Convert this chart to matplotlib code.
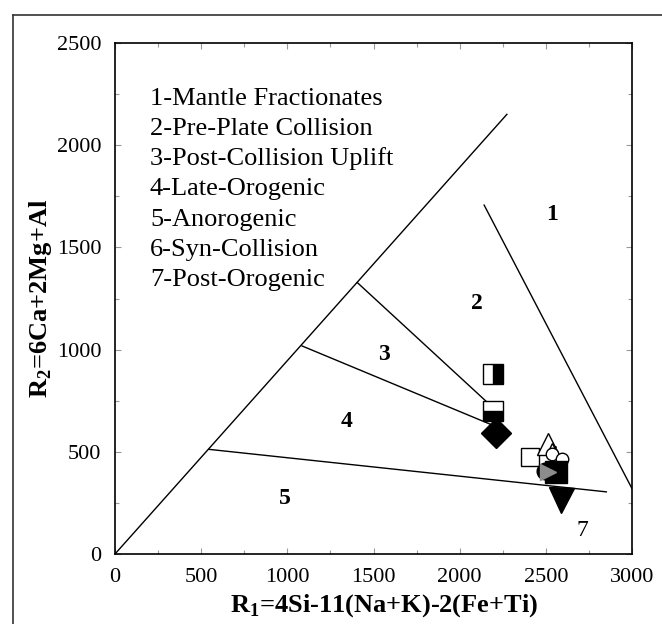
import matplotlib
matplotlib.use('Agg')
import matplotlib.pyplot as plt
from matplotlib.lines import Line2D
from matplotlib.ticker import MultipleLocator

plt.rcParams['font.family'] = ['Liberation Serif', 'DejaVu Serif']
plt.rcParams['mathtext.fontset'] = 'custom'
plt.rcParams['mathtext.rm'] = 'Liberation Serif'
plt.rcParams['mathtext.bf'] = 'Liberation Serif:bold'

# field boundaries (R1, R2)
diag_x = [0, 2274]
diag_y = [0, 2151]
line1_x = [2142, 3000]
line1_y = [1707, 320]
line3_x = [1406, 2200]
line3_y = [1328, 711]
line4_x = [1085, 2200]
line4_y = [1018, 627]
line5_x = [545, 2851]
line5_y = [512, 304]

# field numbers
field_labels = ['1', '2', '3', '4', '5', '7']
field_x = [2535, 2100, 1558, 1341, 987, 2711]
field_y = [1663, 1226, 974, 647, 272, 117]

legend_lines = ['1-Mantle Fractionates', '2-Pre-Plate Collision',
                '3-Post-Collision Uplift', '4-Late-Orogenic', '5-Anorogenic',
                '6-Syn-Collision', '7-Post-Orogenic']

# samples
half_r_x, half_r_y = [2193], [880]
half_b_x, half_b_y = [2193], [702]
diamond_x, diamond_y = [2210], [592]
open_sq_x, open_sq_y = [2410], [475]
open_tri_x, open_tri_y = [2510], [537]
small_tri_x, small_tri_y = [2535], [512]
open_circ_x, open_circ_y = [2535, 2592], [488, 463]
blk_circ_x, blk_circ_y = [2497], [408]
blk_sq_x, blk_sq_y = [2560], [400]
grey_tri_x, grey_tri_y = [2514], [402]
inv_tri_x, inv_tri_y = [2588], [262]

fig = plt.figure(figsize=(6.62, 6.24), dpi=100)
ax = fig.add_axes([115/662, 1 - 554/624, 517/662, 511/624])

# outer frame (left and top only)
fig.add_artist(Line2D([13/662, 13/662], [0, 1 - 15/624], color='#333333', lw=1.2))
fig.add_artist(Line2D([13/662, 1], [1 - 15/624, 1 - 15/624], color='#333333', lw=1.2))

lw = 1.0
for xs, ys in [(diag_x, diag_y), (line1_x, line1_y), (line3_x, line3_y),
               (line4_x, line4_y), (line5_x, line5_y)]:
    ax.plot(xs, ys, color='black', lw=lw, zorder=2)

for lab, x, y in zip(field_labels, field_x, field_y):
    ax.text(x, y, lab, fontsize=17, ha='center', va='center',
            fontweight='normal' if lab == '7' else 'bold', zorder=3)
ax.text(2540, 485, '6', fontsize=13, ha='center', va='center', zorder=3)

for i, s in enumerate(legend_lines):
    ax.text(203, 2197 - i * 147.6, s, fontsize=19, va='baseline', ha='left')

# markers
ax.plot(half_r_x, half_r_y, 's', ms=15, fillstyle='right', mfc='black',
        mfcalt='white', mec='black', mew=1.0, zorder=5)
ax.plot(half_b_x, half_b_y, 's', ms=15, fillstyle='bottom', mfc='black',
        mfcalt='white', mec='black', mew=1.0, zorder=5)
ax.plot(diamond_x, diamond_y, 'D', ms=15, color='black', zorder=6)
ax.plot(open_sq_x, open_sq_y, 's', ms=13, mfc='white', mec='black', mew=1.0, zorder=5)
ax.plot(open_tri_x, open_tri_y, '^', ms=16, mfc='white', mec='black', mew=1.0, zorder=6)
ax.plot(small_tri_x, small_tri_y, '^', ms=9, mfc='none', mec='black', mew=1.0, zorder=6)
ax.plot(open_circ_x, open_circ_y, 'o', ms=9, mfc='white', mec='black', mew=1.0, zorder=6)
ax.plot(blk_circ_x, blk_circ_y, 'o', ms=12, color='black', zorder=7)
ax.plot(blk_sq_x, blk_sq_y, 's', ms=16, color='black', zorder=7)
ax.plot(grey_tri_x, grey_tri_y, '>', ms=12, color='#8c8c8c', zorder=8)
ax.plot(inv_tri_x, inv_tri_y, 'v', ms=18, color='black', zorder=7)

ax.set_xlim(0, 3000)
ax.set_ylim(0, 2500)
ax.xaxis.set_major_locator(MultipleLocator(500))
ax.yaxis.set_major_locator(MultipleLocator(500))
ax.xaxis.set_minor_locator(MultipleLocator(250))
ax.yaxis.set_minor_locator(MultipleLocator(250))
ax.tick_params(which='both', direction='in', top=True, right=True,
               color='#9a9a9a', width=0.8, labelsize=16, pad=10)
ax.tick_params(which='major', length=4)
ax.tick_params(which='minor', length=3)
for sp in ax.spines.values():
    sp.set_linewidth(1.2)

ax.set_xlabel(r'R$_\mathbf{1}$=4Si-11(Na+K)-2(Fe+Ti)', fontsize=19,
              fontweight='bold', labelpad=2)
ax.xaxis.set_label_coords(0.52, -0.075)
ax.set_ylabel(r'R$_\mathbf{2}$=6Ca+2Mg+Al', fontsize=19,
              fontweight='bold', labelpad=2)

fig.savefig('out.png', dpi=100, facecolor='white')
